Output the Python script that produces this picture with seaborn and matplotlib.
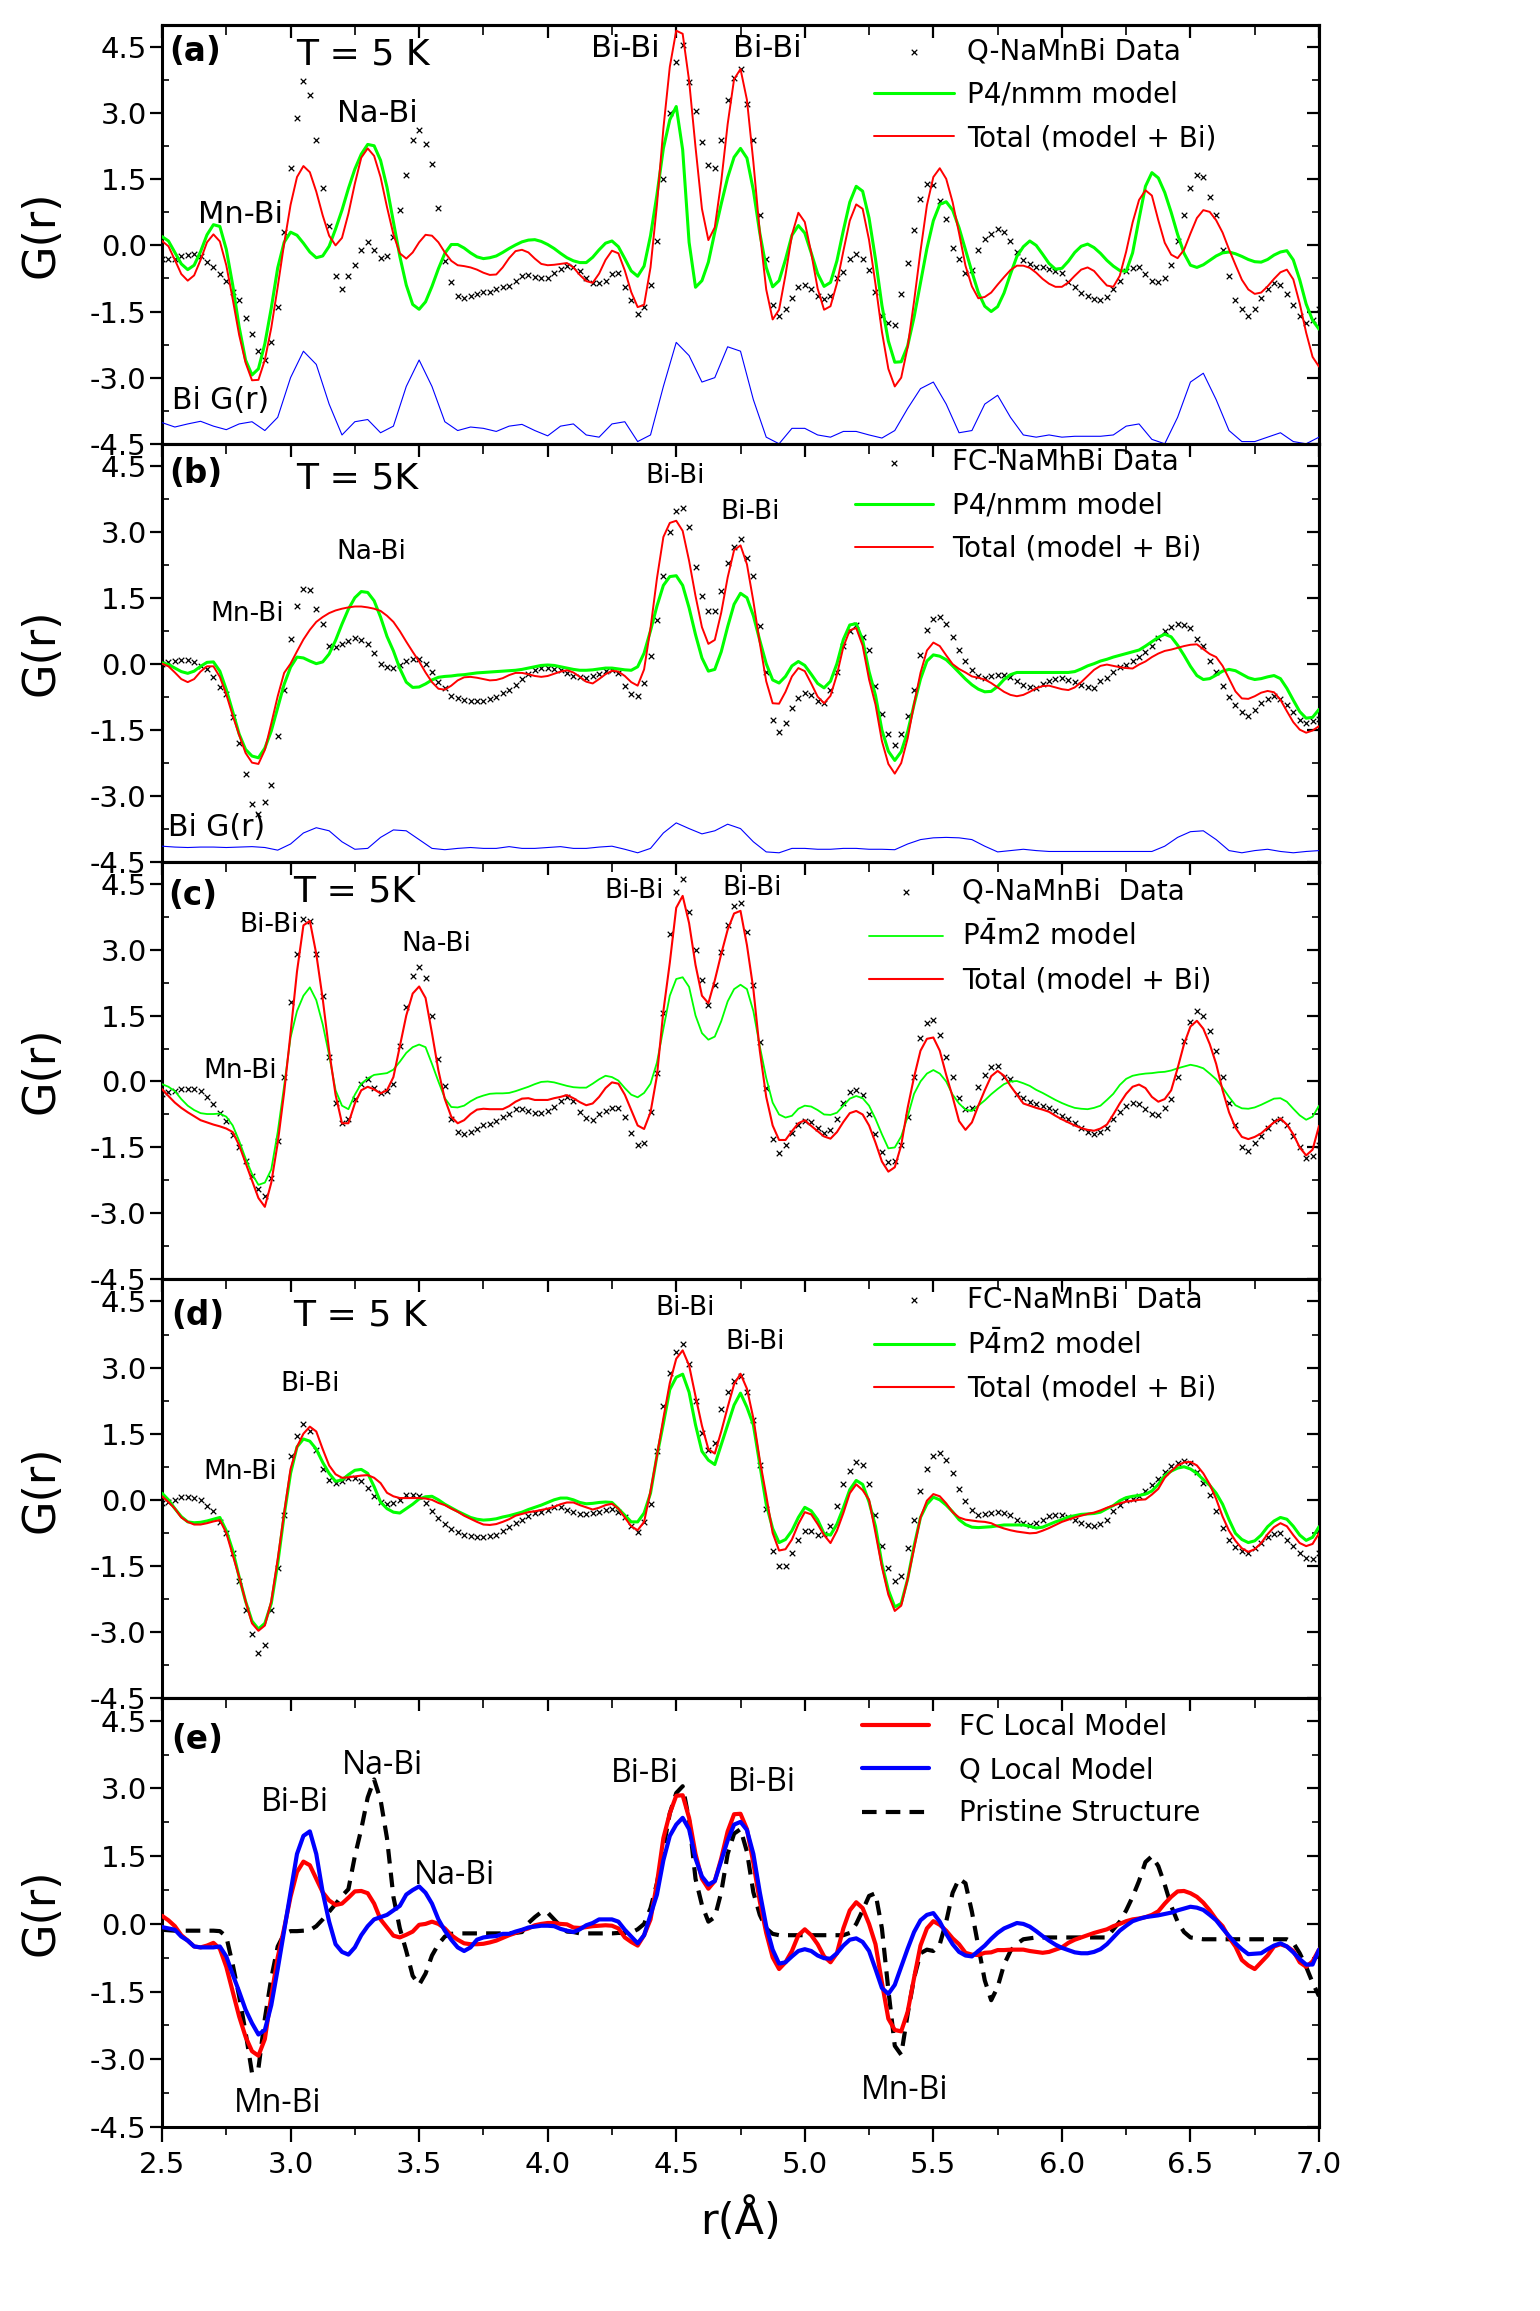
import numpy as np
import matplotlib
matplotlib.use("Agg")
import matplotlib.pyplot as plt
from matplotlib.ticker import MultipleLocator, FormatStrFormatter
import seaborn as sns

# r grids (Angstrom): coarse (0.05 step) for the Bi G(r) traces, fine (0.025 step) for the rest
r = np.round(np.linspace(2.5, 7.0, 91), 3)
r_fine = np.round(np.linspace(2.5, 7.0, 181), 3)

# ---------------- panel (a) ----------------
data_a = [-0.30, -0.31, -0.32, -0.25, -0.22, -0.20, -0.25, -0.38, -0.50, -0.65,
          -0.80, -1.05, -1.25, -1.65, -2.00, -2.40, -2.60, -2.20, -1.40, 0.30,
          1.75, 2.90, 3.72, 3.40, 2.40, 1.30, 0.45, -0.70, -1.00, -0.70,
          -0.45, -0.10, 0.08, -0.10, -0.28, -0.23, 0.20, 0.80, 1.60, 2.40,
          2.62, 2.30, 1.85, 0.85, -0.35, -0.84, -1.15, -1.20, -1.14, -1.10,
          -1.05, -1.05, -1.00, -0.95, -0.92, -0.80, -0.70, -0.67, -0.72, -0.73,
          -0.73, -0.62, -0.53, -0.47, -0.50, -0.58, -0.75, -0.85, -0.85, -0.80,
          -0.65, -0.63, -0.95, -1.25, -1.55, -1.40, -0.90, 0.10, 1.50, 3.00,
          4.15, 4.55, 3.70, 3.04, 2.35, 1.82, 1.75, 2.40, 3.30, 3.80,
          4.00, 3.20, 2.40, 0.70, -0.30, -1.35, -1.60, -1.45, -1.20, -0.95,
          -0.90, -0.98, -1.15, -1.22, -1.14, -0.75, -0.60, -0.30, -0.20, -0.32,
          -0.55, -1.05, -1.60, -1.75, -1.80, -1.10, -0.40, 0.35, 1.05, 1.40,
          1.38, 1.00, 0.60, -0.05, -0.30, -0.63, -0.55, -0.10, 0.15, 0.25,
          0.38, 0.30, 0.10, -0.14, -0.34, -0.43, -0.50, -0.50, -0.53, -0.58,
          -0.62, -0.82, -0.95, -1.08, -1.15, -1.22, -1.25, -1.17, -1.00, -0.80,
          -0.58, -0.52, -0.50, -0.65, -0.80, -0.84, -0.75, -0.45, 0.10, 0.70,
          1.30, 1.60, 1.55, 1.10, 0.68, -0.10, -0.70, -1.25, -1.45, -1.60,
          -1.45, -1.20, -1.00, -0.85, -0.90, -1.10, -1.35, -1.60, -1.75, -1.70,
          -1.45]
green_a = [0.20, 0.10, -0.16, -0.42, -0.55, -0.45, -0.14, 0.24, 0.47, 0.43,
           -0.09, -0.90, -1.85, -2.60, -2.94, -2.80, -2.23, -1.42, -0.51, 0.07,
           0.30, 0.23, 0.05, -0.15, -0.28, -0.24, -0.02, 0.37, 0.80, 1.29,
           1.73, 2.07, 2.29, 2.26, 1.93, 1.32, 0.54, -0.25, -0.90, -1.34,
           -1.45, -1.28, -0.93, -0.53, -0.18, 0.02, 0.02, -0.06, -0.17, -0.26,
           -0.30, -0.28, -0.24, -0.16, -0.07, 0.01, 0.08, 0.12, 0.13, 0.09,
           0.02, -0.07, -0.18, -0.28, -0.35, -0.39, -0.39, -0.27, -0.10, 0.05,
           0.10, -0.03, -0.30, -0.58, -0.70, -0.47, 0.22, 1.15, 2.20, 2.85,
           3.15, 2.17, 0.07, -0.95, -0.80, -0.38, 0.30, 0.94, 1.54, 2.00,
           2.20, 1.98, 1.25, 0.28, -0.50, -0.94, -0.80, -0.32, 0.23, 0.45,
           0.28, -0.17, -0.64, -0.93, -0.84, -0.35, 0.34, 0.98, 1.34, 1.23,
           0.62, -0.31, -1.36, -2.17, -2.65, -2.64, -2.28, -1.63, -0.85, -0.07,
           0.56, 0.93, 0.99, 0.80, 0.40, -0.10, -0.60, -1.07, -1.38, -1.50,
           -1.39, -1.08, -0.65, -0.25, -0.03, 0.10, 0.00, -0.20, -0.41, -0.54,
           -0.52, -0.36, -0.16, -0.02, 0.03, -0.05, -0.18, -0.34, -0.47, -0.57,
           -0.59, -0.17, 0.60, 1.34, 1.65, 1.53, 1.20, 0.75, 0.25, -0.18,
           -0.45, -0.50, -0.44, -0.34, -0.24, -0.17, -0.15, -0.19, -0.25, -0.32,
           -0.37, -0.38, -0.32, -0.22, -0.15, -0.12, -0.33, -0.78, -1.33, -1.70,
           -1.90]
red_a = [0.10, -0.02, -0.33, -0.65, -0.80, -0.68, -0.33, 0.07, 0.25, 0.09,
         -0.45, -1.22, -2.03, -2.66, -3.06, -3.05, -2.60, -1.87, -0.94, 0.04,
         0.92, 1.55, 1.80, 1.66, 1.22, 0.68, 0.22, 0.00, 0.17, 0.72,
         1.40, 1.99, 2.20, 2.03, 1.55, 0.87, 0.25, -0.18, -0.30, -0.16,
         0.07, 0.24, 0.22, 0.07, -0.16, -0.35, -0.45, -0.47, -0.50, -0.55,
         -0.62, -0.67, -0.66, -0.50, -0.29, -0.13, -0.10, -0.16, -0.30, -0.42,
         -0.45, -0.44, -0.42, -0.40, -0.50, -0.67, -0.81, -0.85, -0.64, -0.33,
         -0.12, -0.18, -0.57, -1.06, -1.40, -1.35, -0.50, 0.92, 2.65, 4.05,
         4.87, 4.80, 3.74, 2.23, 0.83, 0.12, 0.41, 1.45, 2.75, 3.77,
         4.00, 3.30, 1.89, 0.30, -1.00, -1.68, -1.46, -0.67, 0.24, 0.74,
         0.53, -0.17, -0.98, -1.46, -1.38, -0.86, -0.13, 0.56, 0.93, 0.83,
         0.12, -0.88, -1.96, -2.80, -3.20, -3.00, -2.31, -1.27, -0.13, 0.91,
         1.55, 1.75, 1.51, 0.98, 0.28, -0.46, -0.93, -1.20, -1.17, -1.07,
         -0.89, -0.72, -0.56, -0.46, -0.46, -0.51, -0.62, -0.76, -0.87, -0.94,
         -0.94, -0.84, -0.69, -0.55, -0.50, -0.58, -0.75, -0.91, -0.94, -0.69,
         -0.14, 0.52, 1.03, 1.25, 1.13, 0.57, 0.06, -0.21, -0.29, -0.10,
         0.27, 0.62, 0.80, 0.76, 0.57, 0.29, -0.09, -0.44, -0.78, -1.00,
         -1.10, -1.07, -0.93, -0.76, -0.61, -0.55, -0.77, -1.32, -1.98, -2.53,
         -2.75]
bi_a = [-4.02, -4.12, -4.05, -3.99, -4.10, -4.18, -4.05, -4.00, -4.20, -3.90,
        -3.00, -2.40, -2.70, -3.60, -4.30, -4.00, -3.95, -4.25, -4.10, -3.20,
        -2.60, -3.20, -4.00, -4.20, -4.12, -4.15, -4.22, -4.10, -4.06, -4.20,
        -4.32, -4.10, -4.05, -4.30, -4.35, -4.05, -4.00, -4.45, -4.30, -3.20,
        -2.20, -2.50, -3.10, -3.00, -2.30, -2.40, -3.50, -4.35, -4.50, -4.15,
        -4.15, -4.30, -4.35, -4.22, -4.22, -4.30, -4.37, -4.20, -3.70, -3.25,
        -3.10, -3.60, -4.25, -4.20, -3.60, -3.40, -3.90, -4.30, -4.35, -4.30,
        -4.35, -4.33, -4.33, -4.33, -4.30, -4.10, -4.05, -4.40, -4.50, -3.90,
        -3.10, -2.90, -3.50, -4.20, -4.45, -4.45, -4.35, -4.25, -4.45, -4.50,
        -4.35]

# ---------------- panel (b) ----------------
data_b = [0.00, 0.04, 0.06, 0.09, 0.08, 0.03, -0.05, -0.13, -0.30, -0.52,
          -0.70, -1.22, -1.80, -2.50, -3.20, -3.42, -3.15, -2.75, -1.65, -0.60,
          0.55, 1.30, 1.70, 1.68, 1.25, 0.90, 0.40, 0.37, 0.45, 0.52,
          0.59, 0.53, 0.45, 0.25, 0.00, -0.08, -0.10, -0.03, 0.05, 0.10,
          0.10, 0.00, -0.20, -0.42, -0.55, -0.73, -0.78, -0.82, -0.84, -0.85,
          -0.84, -0.81, -0.75, -0.66, -0.60, -0.48, -0.35, -0.24, -0.15, -0.10,
          -0.10, -0.12, -0.15, -0.22, -0.27, -0.30, -0.32, -0.27, -0.23, -0.16,
          -0.14, -0.22, -0.50, -0.68, -0.74, -0.45, 0.17, 1.00, 2.00, 3.00,
          3.48, 3.55, 3.10, 2.20, 1.54, 1.20, 1.20, 1.65, 2.30, 2.65,
          2.83, 2.40, 2.00, 0.85, -0.20, -1.27, -1.55, -1.35, -1.00, -0.78,
          -0.66, -0.72, -0.85, -0.90, -0.60, -0.20, 0.40, 0.75, 0.88, 0.60,
          0.30, -0.50, -1.15, -1.60, -1.85, -1.60, -1.20, -0.60, 0.20, 0.77,
          1.01, 1.07, 0.90, 0.60, 0.30, 0.05, -0.15, -0.27, -0.32, -0.28,
          -0.26, -0.25, -0.30, -0.40, -0.48, -0.53, -0.55, -0.46, -0.40, -0.35,
          -0.32, -0.36, -0.42, -0.49, -0.53, -0.55, -0.40, -0.32, -0.19, -0.08,
          -0.02, 0.05, 0.15, 0.27, 0.40, 0.58, 0.75, 0.83, 0.90, 0.88,
          0.80, 0.55, 0.40, 0.05, -0.20, -0.50, -0.75, -0.95, -1.10, -1.18,
          -1.05, -0.90, -0.80, -0.74, -0.80, -0.95, -1.10, -1.28, -1.34, -1.30,
          -1.25]
green_b = [0.02, -0.02, -0.10, -0.18, -0.22, -0.17, -0.06, 0.03, 0.04, -0.17,
           -0.59, -1.09, -1.60, -1.95, -2.10, -2.14, -1.92, -1.53, -1.00, -0.47,
           -0.08, 0.15, 0.13, 0.06, 0.00, 0.04, 0.22, 0.53, 0.90, 1.24,
           1.50, 1.64, 1.62, 1.43, 1.06, 0.62, 0.29, -0.11, -0.42, -0.54,
           -0.53, -0.46, -0.37, -0.31, -0.29, -0.28, -0.26, -0.25, -0.23, -0.21,
           -0.20, -0.19, -0.18, -0.17, -0.16, -0.15, -0.13, -0.10, -0.07, -0.04,
           -0.03, -0.04, -0.07, -0.10, -0.13, -0.15, -0.15, -0.14, -0.12, -0.10,
           -0.10, -0.12, -0.14, -0.15, -0.07, 0.24, 0.75, 1.31, 1.78, 1.98,
           2.00, 1.78, 1.27, 0.66, 0.13, -0.17, -0.13, 0.27, 0.84, 1.35,
           1.60, 1.50, 1.09, 0.53, 0.00, -0.37, -0.44, -0.29, -0.05, 0.05,
           -0.04, -0.24, -0.45, -0.55, -0.40, 0.00, 0.55, 0.88, 0.91, 0.54,
           -0.18, -0.72, -1.51, -1.99, -2.20, -2.00, -1.55, -0.93, -0.35, 0.06,
           0.20, 0.17, 0.09, -0.05, -0.20, -0.35, -0.48, -0.58, -0.64, -0.63,
           -0.52, -0.36, -0.25, -0.20, -0.20, -0.20, -0.20, -0.20, -0.20, -0.20,
           -0.20, -0.20, -0.18, -0.12, -0.05, 0.00, 0.06, 0.10, 0.15, 0.19,
           0.23, 0.27, 0.31, 0.40, 0.50, 0.60, 0.67, 0.61, 0.42, 0.19,
           -0.06, -0.27, -0.36, -0.34, -0.26, -0.17, -0.13, -0.16, -0.24, -0.32,
           -0.36, -0.34, -0.30, -0.27, -0.34, -0.56, -0.83, -1.09, -1.24, -1.22,
           -1.04]
red_b = [0.00, -0.06, -0.20, -0.35, -0.42, -0.35, -0.18, -0.06, -0.06, -0.30,
         -0.70, -1.18, -1.62, -2.03, -2.25, -2.28, -1.96, -1.36, -0.74, -0.21,
         0.00, 0.28, 0.55, 0.77, 0.95, 1.06, 1.15, 1.21, 1.25, 1.28,
         1.30, 1.30, 1.28, 1.25, 1.20, 1.09, 0.95, 0.74, 0.50, 0.27,
         0.05, -0.20, -0.42, -0.57, -0.59, -0.50, -0.38, -0.31, -0.30, -0.32,
         -0.35, -0.38, -0.37, -0.33, -0.26, -0.21, -0.21, -0.24, -0.28, -0.30,
         -0.28, -0.23, -0.18, -0.15, -0.20, -0.30, -0.41, -0.45, -0.35, -0.24,
         -0.16, -0.18, -0.28, -0.42, -0.50, -0.13, 0.81, 1.94, 2.88, 3.20,
         3.25, 3.02, 2.34, 1.54, 0.83, 0.45, 0.54, 1.16, 1.96, 2.58,
         2.69, 2.26, 1.42, 0.47, -0.40, -0.90, -0.91, -0.64, -0.29, -0.10,
         -0.17, -0.45, -0.75, -0.90, -0.73, -0.25, 0.38, 0.76, 0.81, 0.41,
         -0.36, -0.93, -1.76, -2.28, -2.50, -2.26, -1.70, -0.92, -0.21, 0.30,
         0.48, 0.40, 0.19, -0.01, -0.12, -0.20, -0.29, -0.32, -0.36, -0.44,
         -0.54, -0.64, -0.71, -0.74, -0.71, -0.64, -0.56, -0.51, -0.50, -0.54,
         -0.58, -0.60, -0.54, -0.42, -0.28, -0.14, -0.05, -0.02, -0.05, -0.08,
         -0.10, -0.11, -0.02, 0.05, 0.15, 0.23, 0.29, 0.32, 0.36, 0.40,
         0.43, 0.44, 0.33, 0.22, 0.15, -0.05, -0.34, -0.63, -0.79, -0.80,
         -0.74, -0.66, -0.62, -0.65, -0.82, -1.08, -1.33, -1.50, -1.57, -1.52,
         -1.42]
bi_b = [-4.15, -4.17, -4.18, -4.17, -4.17, -4.18, -4.17, -4.16, -4.18, -4.24,
        -4.10, -3.85, -3.73, -3.80, -4.05, -4.22, -4.20, -3.95, -3.78, -3.80,
        -4.00, -4.20, -4.23, -4.20, -4.18, -4.20, -4.20, -4.16, -4.20, -4.20,
        -4.18, -4.16, -4.20, -4.20, -4.17, -4.15, -4.22, -4.30, -4.20, -3.85,
        -3.62, -3.75, -3.87, -3.80, -3.65, -3.75, -4.05, -4.28, -4.30, -4.20,
        -4.20, -4.22, -4.22, -4.20, -4.20, -4.22, -4.22, -4.23, -4.10, -4.00,
        -3.96, -3.95, -3.96, -4.00, -4.15, -4.28, -4.25, -4.22, -4.25, -4.27,
        -4.27, -4.27, -4.27, -4.27, -4.27, -4.27, -4.27, -4.27, -4.15, -3.95,
        -3.82, -3.80, -4.00, -4.25, -4.30, -4.25, -4.22, -4.27, -4.30, -4.27,
        -4.25]

# ---------------- panel (c) ----------------
data_c = [-0.29, -0.25, -0.21, -0.18, -0.16, -0.16, -0.22, -0.35, -0.52, -0.72,
          -0.90, -1.22, -1.50, -1.80, -2.15, -2.45, -2.60, -2.20, -1.35, 0.10,
          1.80, 2.90, 3.70, 3.65, 2.90, 1.95, 0.55, -0.50, -0.95, -0.86,
          -0.40, -0.05, 0.05, -0.15, -0.27, -0.22, -0.05, 0.80, 1.70, 2.40,
          2.60, 2.35, 1.50, 0.50, -0.10, -0.85, -1.15, -1.20, -1.15, -1.08,
          -1.00, -0.96, -0.90, -0.80, -0.75, -0.63, -0.63, -0.66, -0.72, -0.71,
          -0.68, -0.57, -0.45, -0.36, -0.45, -0.69, -0.82, -0.88, -0.75, -0.66,
          -0.60, -0.60, -0.80, -1.16, -1.45, -1.39, -0.70, 0.20, 1.55, 3.35,
          4.30, 4.60, 3.85, 2.98, 2.30, 1.75, 2.20, 2.95, 3.55, 4.00,
          4.05, 3.39, 2.20, 0.90, -0.15, -1.30, -1.62, -1.45, -1.18, -1.00,
          -0.90, -0.93, -1.05, -1.18, -1.10, -0.85, -0.48, -0.25, -0.20, -0.30,
          -0.75, -1.20, -1.60, -1.83, -1.80, -1.45, -0.80, 0.10, 1.00, 1.34,
          1.40, 1.05, 0.55, 0.10, -0.38, -0.62, -0.60, -0.12, 0.15, 0.34,
          0.35, 0.10, 0.05, -0.28, -0.38, -0.47, -0.52, -0.56, -0.60, -0.66,
          -0.78, -0.85, -0.95, -1.05, -1.15, -1.20, -1.15, -1.05, -0.85, -0.70,
          -0.55, -0.50, -0.52, -0.62, -0.75, -0.76, -0.60, -0.40, 0.10, 0.92,
          1.35, 1.60, 1.50, 1.15, 0.70, 0.10, -0.50, -1.00, -1.50, -1.58,
          -1.40, -1.25, -1.05, -0.90, -0.85, -1.00, -1.24, -1.50, -1.75, -1.70,
          -1.45]
green_c = [-0.06, -0.12, -0.22, -0.40, -0.55, -0.65, -0.72, -0.74, -0.74, -0.73,
           -0.80, -1.00, -1.35, -1.75, -2.10, -2.35, -2.30, -2.00, -1.15, -0.10,
           1.00, 1.60, 1.95, 2.14, 1.85, 1.30, 0.60, -0.20, -0.55, -0.63,
           -0.30, -0.05, 0.07, 0.15, 0.17, 0.19, 0.27, 0.45, 0.65, 0.78,
           0.84, 0.78, 0.40, 0.00, -0.38, -0.58, -0.59, -0.55, -0.45, -0.37,
           -0.32, -0.28, -0.27, -0.27, -0.26, -0.22, -0.17, -0.12, -0.06, -0.01,
           0.00, -0.02, -0.06, -0.10, -0.13, -0.14, -0.14, -0.05, 0.05, 0.13,
           0.10, 0.02, -0.15, -0.30, -0.36, -0.26, -0.05, 0.43, 1.20, 1.95,
           2.33, 2.37, 2.15, 1.50, 1.10, 0.95, 1.02, 1.37, 1.82, 2.10,
           2.20, 2.10, 1.60, 0.80, 0.08, -0.48, -0.75, -0.82, -0.78, -0.62,
           -0.55, -0.57, -0.65, -0.75, -0.76, -0.71, -0.55, -0.39, -0.33, -0.38,
           -0.55, -0.85, -1.20, -1.52, -1.50, -1.25, -0.80, -0.28, 0.00, 0.18,
           0.26, 0.18, 0.00, -0.30, -0.50, -0.64, -0.67, -0.55, -0.43, -0.29,
           -0.17, -0.06, 0.00, 0.01, -0.04, -0.10, -0.19, -0.26, -0.34, -0.42,
           -0.49, -0.55, -0.60, -0.62, -0.63, -0.60, -0.55, -0.42, -0.28, -0.08,
           0.06, 0.13, 0.16, 0.18, 0.19, 0.21, 0.22, 0.25, 0.30, 0.34,
           0.38, 0.35, 0.30, 0.18, 0.05, -0.14, -0.35, -0.54, -0.61, -0.62,
           -0.59, -0.53, -0.46, -0.39, -0.38, -0.46, -0.62, -0.77, -0.87, -0.80,
           -0.55]
red_c = [-0.17, -0.33, -0.48, -0.60, -0.70, -0.79, -0.88, -0.93, -0.98, -1.02,
         -1.07, -1.15, -1.45, -1.85, -2.25, -2.65, -2.85, -2.30, -1.40, -0.25,
         1.10, 2.50, 3.55, 3.65, 2.90, 1.88, 0.70, -0.30, -0.95, -0.95,
         -0.50, -0.20, -0.12, -0.18, -0.27, -0.20, 0.10, 0.80, 1.50, 2.00,
         2.16, 1.90, 1.10, 0.25, -0.40, -0.80, -0.95, -0.88, -0.74, -0.64,
         -0.62, -0.63, -0.63, -0.63, -0.56, -0.46, -0.39, -0.38, -0.42, -0.42,
         -0.42, -0.38, -0.35, -0.31, -0.38, -0.47, -0.54, -0.50, -0.35, -0.15,
         -0.02, -0.05, -0.30, -0.65, -1.00, -1.08, -0.70, 0.13, 1.60, 2.70,
         3.95, 4.22, 3.60, 2.65, 1.95, 1.78, 2.30, 2.90, 3.45, 3.82,
         3.88, 3.10, 2.10, 0.70, -0.35, -1.00, -1.33, -1.33, -1.13, -0.95,
         -0.88, -1.01, -1.13, -1.25, -1.30, -1.15, -0.92, -0.72, -0.67, -0.75,
         -1.00, -1.39, -1.82, -2.05, -1.95, -1.45, -0.60, 0.10, 0.70, 0.97,
         1.00, 0.70, 0.15, -0.35, -0.90, -1.10, -0.93, -0.55, -0.20, 0.12,
         0.24, 0.13, -0.10, -0.30, -0.50, -0.55, -0.60, -0.64, -0.69, -0.78,
         -0.86, -0.93, -1.00, -1.06, -1.10, -1.12, -1.07, -0.98, -0.75, -0.50,
         -0.28, -0.12, -0.07, -0.15, -0.35, -0.46, -0.40, -0.20, 0.30, 0.85,
         1.25, 1.38, 1.20, 0.85, 0.40, -0.20, -0.70, -1.05, -1.26, -1.31,
         -1.26, -1.18, -1.05, -0.93, -0.84, -0.98, -1.20, -1.50, -1.68, -1.55,
         -1.01]

# ---------------- panel (d) ----------------
data_d = [-0.08, -0.04, 0.00, 0.06, 0.07, 0.04, 0.00, -0.13, -0.25, -0.50,
          -0.75, -1.20, -1.85, -2.50, -3.05, -3.47, -3.30, -2.50, -1.55, -0.35,
          1.00, 1.45, 1.72, 1.57, 1.14, 0.70, 0.46, 0.39, 0.42, 0.50,
          0.50, 0.42, 0.27, 0.09, -0.05, -0.10, -0.08, -0.01, 0.10, 0.10,
          0.08, -0.08, -0.25, -0.42, -0.55, -0.66, -0.72, -0.80, -0.82, -0.84,
          -0.84, -0.82, -0.80, -0.70, -0.62, -0.53, -0.45, -0.36, -0.30, -0.27,
          -0.22, -0.16, -0.16, -0.24, -0.27, -0.33, -0.33, -0.31, -0.28, -0.22,
          -0.20, -0.28, -0.40, -0.60, -0.72, -0.50, -0.10, 1.10, 2.13, 2.88,
          3.36, 3.54, 3.08, 2.25, 1.52, 1.12, 1.30, 2.05, 2.45, 2.70,
          2.80, 2.45, 1.80, 0.80, -0.20, -1.17, -1.50, -1.50, -1.20, -0.90,
          -0.70, -0.71, -0.80, -0.78, -0.60, -0.13, 0.35, 0.65, 0.86, 0.78,
          0.35, -0.35, -1.05, -1.55, -1.85, -1.72, -1.10, -0.45, 0.20, 0.70,
          1.00, 1.07, 0.90, 0.60, 0.25, -0.02, -0.22, -0.34, -0.33, -0.30,
          -0.27, -0.30, -0.34, -0.45, -0.53, -0.57, -0.52, -0.46, -0.36, -0.34,
          -0.34, -0.39, -0.46, -0.53, -0.58, -0.60, -0.55, -0.46, -0.25, -0.12,
          0.00, 0.03, 0.08, 0.20, 0.34, 0.48, 0.62, 0.76, 0.83, 0.88,
          0.84, 0.64, 0.38, 0.10, -0.25, -0.65, -0.90, -1.07, -1.15, -1.20,
          -1.10, -0.98, -0.84, -0.77, -0.76, -0.90, -1.05, -1.20, -1.32, -1.35,
          -1.20]
green_d = [0.15, 0.00, -0.20, -0.38, -0.50, -0.52, -0.51, -0.48, -0.44, -0.40,
           -0.70, -1.15, -1.75, -2.30, -2.75, -2.93, -2.80, -2.35, -1.45, -0.35,
           0.60, 1.20, 1.38, 1.33, 1.15, 0.85, 0.60, 0.42, 0.45, 0.57,
           0.67, 0.69, 0.60, 0.30, -0.05, -0.20, -0.28, -0.30, -0.20, -0.10,
           0.02, 0.07, 0.08, 0.00, -0.10, -0.18, -0.26, -0.33, -0.40, -0.44,
           -0.46, -0.45, -0.43, -0.39, -0.36, -0.32, -0.28, -0.22, -0.17, -0.12,
           -0.06, 0.00, 0.04, 0.04, 0.00, -0.06, -0.09, -0.08, -0.06, -0.05,
           -0.06, -0.20, -0.35, -0.50, -0.50, -0.30, 0.15, 1.00, 1.73, 2.50,
           2.78, 2.85, 2.44, 1.70, 1.10, 0.90, 0.80, 1.25, 1.70, 2.15,
           2.42, 2.10, 1.70, 0.80, -0.10, -0.65, -0.97, -0.90, -0.70, -0.40,
           -0.17, -0.25, -0.45, -0.77, -0.80, -0.55, -0.18, 0.23, 0.44, 0.35,
           -0.05, -0.60, -1.45, -2.05, -2.43, -2.35, -1.80, -1.05, -0.40, -0.10,
           0.06, 0.00, -0.12, -0.27, -0.45, -0.56, -0.62, -0.63, -0.62, -0.61,
           -0.59, -0.57, -0.57, -0.57, -0.57, -0.60, -0.64, -0.62, -0.56, -0.50,
           -0.45, -0.39, -0.36, -0.33, -0.32, -0.31, -0.28, -0.20, -0.13, -0.02,
           0.05, 0.08, 0.10, 0.13, 0.20, 0.35, 0.55, 0.65, 0.72, 0.75,
           0.70, 0.60, 0.46, 0.33, 0.15, -0.10, -0.45, -0.76, -0.90, -0.97,
           -0.93, -0.80, -0.61, -0.48, -0.40, -0.44, -0.60, -0.80, -0.92, -0.85,
           -0.61]
red_d = [0.08, -0.05, -0.20, -0.40, -0.50, -0.56, -0.56, -0.53, -0.49, -0.46,
         -0.75, -1.25, -1.75, -2.30, -2.80, -2.97, -2.85, -2.30, -1.35, -0.30,
         0.70, 1.20, 1.50, 1.66, 1.55, 1.15, 0.78, 0.58, 0.50, 0.51,
         0.53, 0.55, 0.56, 0.50, 0.38, 0.16, 0.08, 0.04, 0.04, 0.04,
         0.04, 0.03, 0.00, -0.07, -0.12, -0.20, -0.27, -0.36, -0.43, -0.50,
         -0.56, -0.57, -0.55, -0.50, -0.44, -0.36, -0.32, -0.28, -0.26, -0.23,
         -0.20, -0.16, -0.10, -0.06, -0.06, -0.12, -0.17, -0.22, -0.18, -0.12,
         -0.09, -0.20, -0.40, -0.60, -0.69, -0.50, 0.20, 1.00, 1.85, 2.65,
         3.20, 3.39, 3.05, 2.35, 1.68, 1.15, 1.05, 1.55, 2.10, 2.62,
         2.86, 2.52, 1.85, 0.90, 0.10, -0.75, -1.15, -1.12, -0.90, -0.55,
         -0.28, -0.33, -0.55, -0.80, -0.98, -0.70, -0.30, 0.15, 0.35, 0.22,
         0.00, -0.75, -1.52, -2.15, -2.52, -2.40, -1.80, -1.10, -0.40, -0.02,
         0.13, 0.08, -0.08, -0.28, -0.40, -0.45, -0.47, -0.49, -0.50, -0.53,
         -0.60, -0.65, -0.69, -0.72, -0.74, -0.76, -0.75, -0.70, -0.64, -0.57,
         -0.50, -0.45, -0.40, -0.36, -0.32, -0.29, -0.24, -0.18, -0.13, -0.08,
         -0.04, -0.02, 0.00, 0.01, 0.12, 0.25, 0.50, 0.65, 0.78, 0.85,
         0.86, 0.78, 0.60, 0.35, 0.02, -0.38, -0.70, -0.93, -1.10, -1.18,
         -1.12, -0.98, -0.78, -0.62, -0.53, -0.60, -0.80, -0.98, -1.05, -1.00,
         -0.76]

# ---------------- panel (e) ----------------
fc_local = [0.18, 0.08, -0.05, -0.25, -0.37, -0.50, -0.52, -0.48, -0.42, -0.55,
            -0.95, -1.50, -2.05, -2.50, -2.82, -2.92, -2.55, -1.60, -0.74, -0.10,
            0.60, 1.15, 1.38, 1.30, 1.00, 0.70, 0.52, 0.42, 0.45, 0.58,
            0.72, 0.73, 0.68, 0.45, 0.10, -0.08, -0.26, -0.30, -0.24, -0.17,
            -0.02, 0.00, 0.05, 0.00, -0.10, -0.25, -0.35, -0.43, -0.45, -0.45,
            -0.44, -0.41, -0.37, -0.31, -0.25, -0.20, -0.14, -0.10, -0.03, 0.00,
            0.02, 0.02, 0.00, -0.01, -0.08, -0.09, -0.07, -0.05, -0.04, -0.03,
            -0.04, -0.10, -0.30, -0.40, -0.48, -0.25, 0.10, 0.90, 1.90, 2.45,
            2.84, 2.85, 2.35, 1.55, 1.00, 0.78, 0.95, 1.45, 2.05, 2.43,
            2.44, 2.10, 1.35, 0.50, -0.20, -0.74, -1.00, -0.85, -0.60, -0.25,
            -0.12, -0.25, -0.45, -0.72, -0.85, -0.65, -0.10, 0.30, 0.48, 0.35,
            0.00, -0.45, -1.30, -2.10, -2.35, -2.38, -1.95, -1.20, -0.48, -0.10,
            0.06, -0.02, -0.15, -0.32, -0.45, -0.64, -0.68, -0.69, -0.64, -0.63,
            -0.58, -0.58, -0.57, -0.57, -0.57, -0.60, -0.62, -0.64, -0.62, -0.57,
            -0.52, -0.42, -0.35, -0.30, -0.25, -0.20, -0.16, -0.12, -0.05, 0.00,
            0.06, 0.10, 0.12, 0.15, 0.20, 0.28, 0.45, 0.60, 0.72, 0.73,
            0.68, 0.60, 0.47, 0.30, 0.10, -0.05, -0.30, -0.50, -0.80, -0.92,
            -1.00, -0.85, -0.70, -0.50, -0.45, -0.50, -0.60, -0.85, -0.95, -0.83,
            -0.57]
q_local = [-0.07, -0.10, -0.13, -0.28, -0.37, -0.50, -0.52, -0.52, -0.52, -0.50,
           -0.72, -1.12, -1.50, -1.90, -2.20, -2.45, -2.35, -1.80, -1.00, -0.15,
           0.69, 1.55, 1.95, 2.05, 1.55, 0.70, 0.05, -0.45, -0.62, -0.68,
           -0.52, -0.25, -0.05, 0.10, 0.15, 0.20, 0.30, 0.40, 0.65, 0.75,
           0.83, 0.69, 0.45, 0.10, -0.15, -0.35, -0.52, -0.60, -0.52, -0.35,
           -0.30, -0.28, -0.27, -0.22, -0.22, -0.17, -0.13, -0.08, -0.06, -0.04,
           -0.04, -0.05, -0.11, -0.15, -0.18, -0.12, -0.03, 0.02, 0.10, 0.10,
           0.10, 0.05, -0.13, -0.28, -0.43, -0.25, 0.20, 0.65, 1.41, 1.95,
           2.20, 2.35, 2.10, 1.45, 1.05, 0.87, 0.95, 1.40, 1.85, 2.20,
           2.26, 2.08, 1.55, 0.70, -0.05, -0.57, -0.88, -0.85, -0.72, -0.60,
           -0.56, -0.60, -0.70, -0.76, -0.77, -0.65, -0.48, -0.35, -0.32, -0.40,
           -0.60, -1.00, -1.42, -1.55, -1.35, -0.95, -0.55, -0.18, 0.08, 0.20,
           0.24, 0.05, -0.22, -0.45, -0.62, -0.70, -0.72, -0.60, -0.48, -0.33,
           -0.20, -0.10, -0.04, 0.02, 0.00, -0.06, -0.16, -0.27, -0.37, -0.46,
           -0.53, -0.58, -0.63, -0.65, -0.65, -0.62, -0.56, -0.45, -0.30, -0.15,
           -0.04, 0.06, 0.11, 0.15, 0.17, 0.19, 0.22, 0.25, 0.30, 0.34,
           0.38, 0.36, 0.31, 0.20, 0.08, -0.10, -0.27, -0.43, -0.56, -0.67,
           -0.66, -0.65, -0.56, -0.48, -0.43, -0.50, -0.63, -0.78, -0.90, -0.90,
           -0.57]
pristine = [-0.13, -0.14, -0.15, -0.15, -0.15, -0.15, -0.15, -0.15, -0.15, -0.16,
            -0.28, -0.90, -1.60, -2.40, -3.30, -3.20, -2.10, -1.20, -0.50, -0.22,
            -0.16, -0.16, -0.15, -0.14, -0.05, 0.10, 0.27, 0.44, 0.62, 0.77,
            1.50, 2.10, 2.80, 3.20, 2.75, 1.90, 0.60, -0.10, -0.60, -1.15,
            -1.35, -1.10, -0.70, -0.45, -0.28, -0.22, -0.21, -0.21, -0.21, -0.21,
            -0.21, -0.21, -0.21, -0.21, -0.21, -0.20, -0.18, 0.02, 0.15, 0.26,
            0.25, 0.10, -0.05, -0.17, -0.18, -0.21, -0.21, -0.21, -0.21, -0.21,
            -0.21, -0.20, -0.20, -0.19, -0.12, 0.00, 0.35, 0.90, 1.68, 2.45,
            2.90, 3.05, 2.30, 1.00, 0.42, 0.05, 0.15, 0.70, 1.55, 2.00,
            2.10, 1.60, 0.70, 0.20, -0.10, -0.22, -0.25, -0.25, -0.25, -0.25,
            -0.25, -0.25, -0.25, -0.25, -0.25, -0.25, -0.25, -0.20, 0.00, 0.30,
            0.62, 0.68, -0.10, -1.46, -2.70, -2.90, -2.00, -1.20, -0.65, -0.57,
            -0.60, -0.45, 0.05, 0.69, 1.00, 0.90, 0.27, -0.50, -1.25, -1.69,
            -1.40, -0.90, -0.60, -0.44, -0.34, -0.32, -0.30, -0.30, -0.30, -0.30,
            -0.30, -0.30, -0.30, -0.30, -0.30, -0.30, -0.30, -0.30, -0.12, 0.05,
            0.30, 0.60, 0.95, 1.37, 1.50, 1.28, 0.87, 0.40, 0.05, -0.18,
            -0.30, -0.32, -0.34, -0.34, -0.34, -0.34, -0.34, -0.34, -0.34, -0.34,
            -0.34, -0.34, -0.34, -0.34, -0.34, -0.34, -0.42, -0.65, -0.95, -1.30,
            -1.60]

yticks = [-4.5, -3.0, -1.5, 0.0, 1.5, 3.0, 4.5]

# ---------------- style ----------------
sns.set_theme(style="ticks")
plt.rcParams['font.family'] = ['DejaVu Sans']
plt.rcParams['axes.unicode_minus'] = False
plt.rcParams['mathtext.default'] = 'regular'
for k in ['axes.edgecolor', 'xtick.color', 'ytick.color', 'text.color', 'axes.labelcolor']:
    plt.rcParams[k] = 'black'

fig = plt.figure(figsize=(15.4, 23.11), dpi=100)
gs = fig.add_gridspec(5, 1, left=0.1052, right=0.8565, top=0.9892, bottom=0.0796,
                      hspace=0, height_ratios=[418, 417, 417, 418, 428])
axes = [fig.add_subplot(gs[i]) for i in range(5)]

GREEN = '#00FF00'
RED = '#FF0000'
BLUE = '#0000FF'


def style_axis(ax, last=False):
    ax.set_xlim(2.5, 7.0)
    ax.set_ylim(-4.5, 5.0)
    ax.set_yticks(yticks)
    ax.yaxis.set_major_formatter(FormatStrFormatter('%.1f'))
    ax.yaxis.set_minor_locator(MultipleLocator(0.75))
    ax.xaxis.set_major_locator(MultipleLocator(0.5))
    ax.xaxis.set_minor_locator(MultipleLocator(0.25))
    ax.xaxis.set_major_formatter(FormatStrFormatter('%.1f'))
    ax.tick_params(axis='y', which='major', direction='out', length=9, width=1.6,
                   labelsize=21, pad=2, left=True, right=False)
    ax.tick_params(axis='y', which='minor', direction='in', length=5, width=1.2,
                   left=True, right=False)
    ax.tick_params(axis='x', which='major', direction='out', length=11, width=1.6,
                   labelsize=21, pad=6, bottom=last, top=False, labelbottom=last)
    ax.tick_params(axis='x', which='minor', direction='out', length=6, width=1.2,
                   bottom=last, top=False)
    for sp in ax.spines.values():
        sp.set_linewidth(2.2)
        sp.set_color('black')
    sx = ax.secondary_xaxis('top')
    sx.xaxis.set_major_locator(MultipleLocator(0.5))
    sx.xaxis.set_minor_locator(MultipleLocator(0.25))
    sx.tick_params(axis='x', which='major', direction='in', length=9, width=1.6, labeltop=False)
    sx.tick_params(axis='x', which='minor', direction='in', length=7, width=1.2)
    sy = ax.secondary_yaxis('right')
    sy.set_yticks(yticks)
    sy.yaxis.set_minor_locator(MultipleLocator(0.75))
    sy.tick_params(axis='y', which='major', direction='in', length=9, width=1.6, labelright=False)
    sy.tick_params(axis='y', which='minor', direction='in', length=5, width=1.2)
    for s in (sx, sy):
        for sp in s.spines.values():
            sp.set_linewidth(2.2)
    ax.set_ylabel('G(r)', fontsize=32)
    ax.yaxis.set_label_coords(-0.086, 0.5)
    ax.set_xlabel('')


def data_pts(ax, y, label):
    sns.scatterplot(x=r_fine, y=y, ax=ax, marker='x', color='black', s=16,
                    linewidth=0.9, label=label, zorder=2)


def curve(ax, y, color, lw, label=None, ls='-', z=3, xs=None):
    sns.lineplot(x=r_fine if xs is None else xs, y=y, ax=ax, color=color, linewidth=lw,
                 label=label, linestyle=ls, zorder=z)


def legend(ax, order, x, y, hl, htp, lsp=0.55):
    h, l = ax.get_legend_handles_labels()
    d = dict(zip(l, h))
    ax.legend([d[k] for k in order], order, loc='upper left', bbox_to_anchor=(x, y),
              frameon=False, fontsize=20, handlelength=hl, handletextpad=htp,
              labelspacing=lsp, borderpad=0, borderaxespad=0, scatterpoints=1)


def note(ax, x, y, s, size, bold=False, family=None):
    kw = dict(fontsize=size, va='center', ha='left', zorder=6)
    if bold:
        kw['fontweight'] = 'bold'
    if family:
        kw['family'] = family
    ax.text(x, y, s, **kw)


L_DATA_Q = 'Q-NaMnBi Data'
L_P4 = 'P4/nmm model'
L_TOT = 'Total (model + Bi)'

# (a)
ax = axes[0]
data_pts(ax, data_a, L_DATA_Q)
curve(ax, bi_a, BLUE, 0.8, xs=r)
curve(ax, green_a, GREEN, 2.2, L_P4)
curve(ax, red_a, RED, 1.4, L_TOT, z=4)
style_axis(ax)
legend(ax, [L_DATA_Q, L_P4, L_TOT], 0.615, 0.970, 2.9, 0.47)
note(ax, 2.53, 4.40, '(a)', 23.5, bold=True)
note(ax, 3.02, 4.33, 'T = 5 K', 26)
note(ax, 2.64, 0.70, 'Mn-Bi', 22)
note(ax, 3.18, 2.99, 'Na-Bi', 22)
note(ax, 4.17, 4.46, 'Bi-Bi', 22)
note(ax, 4.72, 4.46, 'Bi-Bi', 22)
note(ax, 2.54, -3.52, 'Bi G(r)', 21.5)

# (b)
L_DATA_FC = 'FC-NaMnBi Data'
ax = axes[1]
data_pts(ax, data_b, L_DATA_FC)
curve(ax, bi_b, BLUE, 0.8, xs=r)
curve(ax, green_b, GREEN, 2.2, L_P4)
curve(ax, red_b, RED, 1.4, L_TOT, z=4)
style_axis(ax)
legend(ax, [L_DATA_FC, L_P4, L_TOT], 0.599, 0.990, 2.8, 0.7)
note(ax, 2.53, 4.32, '(b)', 23.5, bold=True)
note(ax, 3.02, 4.20, 'T = 5K', 26)
note(ax, 2.69, 1.13, 'Mn-Bi', 19)
note(ax, 3.18, 2.54, 'Na-Bi', 19)
note(ax, 4.38, 4.27, 'Bi-Bi', 19)
note(ax, 4.67, 3.45, 'Bi-Bi', 19)
note(ax, 2.525, -3.72, 'Bi G(r)', 21.5)

# (c)
L_DATA_Q2 = 'Q-NaMnBi  Data'
L_P4b = r'P$\bar{4}$m2 model'
ax = axes[2]
data_pts(ax, data_c, L_DATA_Q2)
curve(ax, green_c, GREEN, 1.3, L_P4b)
curve(ax, red_c, RED, 1.5, L_TOT, z=4)
style_axis(ax)
legend(ax, [L_DATA_Q2, L_P4b, L_TOT], 0.611, 0.962, 2.65, 0.7)
note(ax, 2.525, 4.23, '(c)', 23.5, bold=True)
note(ax, 3.01, 4.32, 'T = 5K', 26)
note(ax, 2.80, 3.56, 'Bi-Bi', 19)
note(ax, 3.43, 3.13, 'Na-Bi', 19)
note(ax, 2.66, 0.24, 'Mn-Bi', 19)
note(ax, 4.22, 4.32, 'Bi-Bi', 19)
note(ax, 4.68, 4.41, 'Bi-Bi', 19)

# (d)
L_DATA_FC2 = 'FC-NaMnBi  Data'
ax = axes[3]
data_pts(ax, data_d, L_DATA_FC2)
curve(ax, green_d, GREEN, 2.2, L_P4b)
curve(ax, red_d, RED, 1.5, L_TOT, z=4)
style_axis(ax)
legend(ax, [L_DATA_FC2, L_P4b, L_TOT], 0.615, 0.985, 2.9, 0.47)
note(ax, 2.535, 4.18, '(d)', 23.5, bold=True)
note(ax, 3.01, 4.18, 'T = 5 K', 26)
note(ax, 2.96, 2.63, 'Bi-Bi', 19)
note(ax, 2.66, 0.63, 'Mn-Bi', 19)
note(ax, 4.42, 4.34, 'Bi-Bi', 19)
note(ax, 4.69, 3.57, 'Bi-Bi', 19)

# (e)
L_FC = 'FC Local Model'
L_Q = 'Q Local Model'
L_PR = 'Pristine Structure'
ax = axes[4]
curve(ax, pristine, 'black', 3.0, L_PR, ls=(0, (3.5, 2.2)), z=3)
curve(ax, fc_local, RED, 3.0, L_FC, z=4)
curve(ax, q_local, BLUE, 3.0, L_Q, z=5)
style_axis(ax, last=True)
legend(ax, [L_FC, L_Q, L_PR], 0.605, 0.966, 2.4, 1.1, 0.55)
note(ax, 2.535, 4.09, '(e)', 23.5, bold=True)
OS = ['Open Sans', 'DejaVu Sans']
note(ax, 2.885, 2.69, 'Bi-Bi', 23, family=OS)
note(ax, 3.20, 3.51, 'Na-Bi', 23, family=OS)
note(ax, 3.48, 1.07, 'Na-Bi', 23, family=OS)
note(ax, 2.78, -3.97, 'Mn-Bi', 23, family=OS)
note(ax, 4.245, 3.34, 'Bi-Bi', 23, family=OS)
note(ax, 4.70, 3.14, 'Bi-Bi', 23, family=OS)
note(ax, 5.22, -3.70, 'Mn-Bi', 23, family=OS)
ax.set_xlabel('r(Å)', fontsize=31)
ax.xaxis.set_label_coords(0.5, -0.166)

fig.savefig('out.png', dpi=100)
